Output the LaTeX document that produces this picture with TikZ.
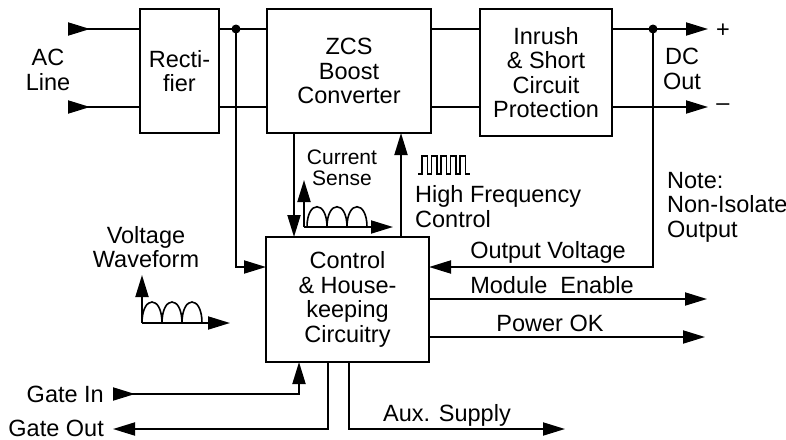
\documentclass[tikz,border=0pt]{standalone}
\usepackage{fontspec}
\setmainfont{Liberation Sans}
\usetikzlibrary{arrows.meta,decorations.markings}
\begin{document}
\begin{tikzpicture}[x=1pt,y=-1pt,
  wire/.style={line width=1.9pt},
  thinwire/.style={line width=1.6pt},
  arr/.style={-{Triangle[length=22pt,width=13pt]}},
  startarrow/.style={postaction={decorate,decoration={markings,
      mark=at position 22pt with {\arrow{Triangle[length=22pt,width=13pt]}}}}},
  blk/.style={draw,line width=1.9pt,inner sep=0pt,outer sep=0pt,align=center,
      font=\fontsize{23.5}{24.5}\selectfont},
  lbl/.style={inner sep=0pt,align=center,font=\fontsize{23.5}{24.5}\selectfont},
  small/.style={inner sep=0pt,align=center,font=\fontsize{21}{21}\selectfont},
  dot/.style={circle,fill,inner sep=0pt,minimum size=9pt}]
\useasboundingbox (0,0) rectangle (786,439);

% blocks
\node[blk,minimum width=79pt,minimum height=124pt] (rect) at (179.5,71) {Recti-\\fier};
\node[blk,minimum width=164pt,minimum height=124pt] (zcs) at (349,71) {ZCS\\Boost\\Converter};
\node[blk,minimum width=132pt,minimum height=127pt] (inr) at (546,72.5) {Inrush\\\& Short\\Circuit\\Protection};
\node[blk,minimum width=163pt,minimum height=125pt] (ctrl) at (347.5,299.5) {Control\\\& House-\\keeping\\Circuitry};

% helper coordinates
\coordinate (top) at (0,29);
\coordinate (bot) at (0,107);
\coordinate (ov) at (0,267);
\coordinate (me) at (0,299);
\coordinate (pok) at (0,337);
\coordinate (ac1) at (68,29);
\coordinate (ac2) at (68,107);
\coordinate (j1) at (236,29);
\coordinate (j2) at (653,29);
\coordinate (plus) at (708,29);
\coordinate (minus) at (708,107);
\coordinate (cs) at (294,0);
\coordinate (hf) at (401,0);
\coordinate (meEnd) at (707,299);
\coordinate (pokEnd) at (705,337);
\coordinate (gi) at (113,394);
\coordinate (giX) at (299,0);
\coordinate (goX) at (328,0);
\coordinate (go) at (113,429);
\coordinate (auxX) at (349,0);
\coordinate (aux) at (565,429);

% AC input lines
\draw[wire,startarrow] (ac1) -- (rect.west |- top);
\draw[wire,startarrow] (ac2) -- (rect.west |- bot);
% rectifier to boost
\draw[wire] (rect.east |- top) -- (zcs.west |- top);
\draw[wire] (rect.east |- bot) -- (zcs.west |- bot);
% boost to inrush
\draw[wire] (zcs.east |- top) -- (inr.west |- top);
\draw[wire] (zcs.east |- bot) -- (inr.west |- bot);
% outputs
\draw[wire,arr] (inr.east |- top) -- (plus);
\draw[wire,arr] (inr.east |- bot) -- (minus);
% junctions and feedback
\node[dot] (d1) at (j1) {};
\node[dot] (d2) at (j2) {};
\draw[wire,arr] (j1) |- (ctrl.west |- ov);
\draw[wire,arr] (j2) |- (ctrl.east |- ov);
% current sense and HF control
\draw[wire,arr] (zcs.south -| cs) -- (ctrl.north -| cs);
\draw[wire,arr] (ctrl.north -| hf) -- (zcs.south -| hf);
% control outputs
\draw[wire,arr] (ctrl.east |- me) -- (meEnd);
\draw[wire,arr] (ctrl.east |- pok) -- (pokEnd);
% gate and aux
\draw[wire,startarrow,arr] (gi) -| (ctrl.south -| giX);
\draw[wire,arr] (ctrl.south -| goX) |- (go);
\draw[wire,arr] (ctrl.south -| auxX) |- (aux);

% voltage waveform
\coordinate (vw) at (142,323);
\draw[wire,arr] (vw) -- (142,275);
\draw[wire,arr] (vw) -- (230,323);
\foreach \i in {0,1,2}
  \draw[thinwire] ({142+20*\i},323) .. controls ({142+20*\i},295) and ({162+20*\i},295) .. ({162+20*\i},323);

% current sense waveform
\coordinate (cw) at (304,227);
\draw[wire,arr] (cw) -- (304,180);
\draw[wire,arr] (cw) -- (393,227);
\foreach \i in {0,1,2}
  \draw[thinwire] ({307+20*\i},227) .. controls ({307+20*\i},200) and ({327+20*\i},200) .. ({327+20*\i},227);

% pulse train
\draw[thinwire] (418,174) foreach \k in {0,...,4} {
  -- ({422+9.5*\k},174) -- ({422+9.5*\k},156) -- ({427.5+9.5*\k},156) -- ({427.5+9.5*\k},174) } -- (470,174);

% labels
\node[lbl] (lac) at (48,70) {AC\\Line};
\node[lbl] (ldc) at (682,69) {DC\\Out};
\node[lbl] (lp) at (723,31) {+};
\node[lbl] (lm) at (723,107) {--};
\node[small] (lcs) at (342,168) {Current\\Sense};
\node[lbl,align=left,anchor=west] (lhf) at (415,206.5) {High Frequency\\Control};
\node[lbl,align=left,anchor=west] (lnote) at (667,207) {Note:\\Non-Isolated\\Output};
\node[lbl] (lvw) at (146,247) {Voltage\\Waveform};
\node[lbl] (lov) at (548,252) {Output Voltage};
\node[lbl] (lme) at (552,285) {Module~~Enable};
\node[lbl] (lpok) at (550,323) {Power OK};
\node[lbl] (laux) at (447,415) {Aux. Supply};
\node[lbl,anchor=east] (lgi) at (104,394) {Gate In};
\node[lbl,anchor=east] (lgo) at (104,428) {Gate Out};
\end{tikzpicture}
\end{document}
